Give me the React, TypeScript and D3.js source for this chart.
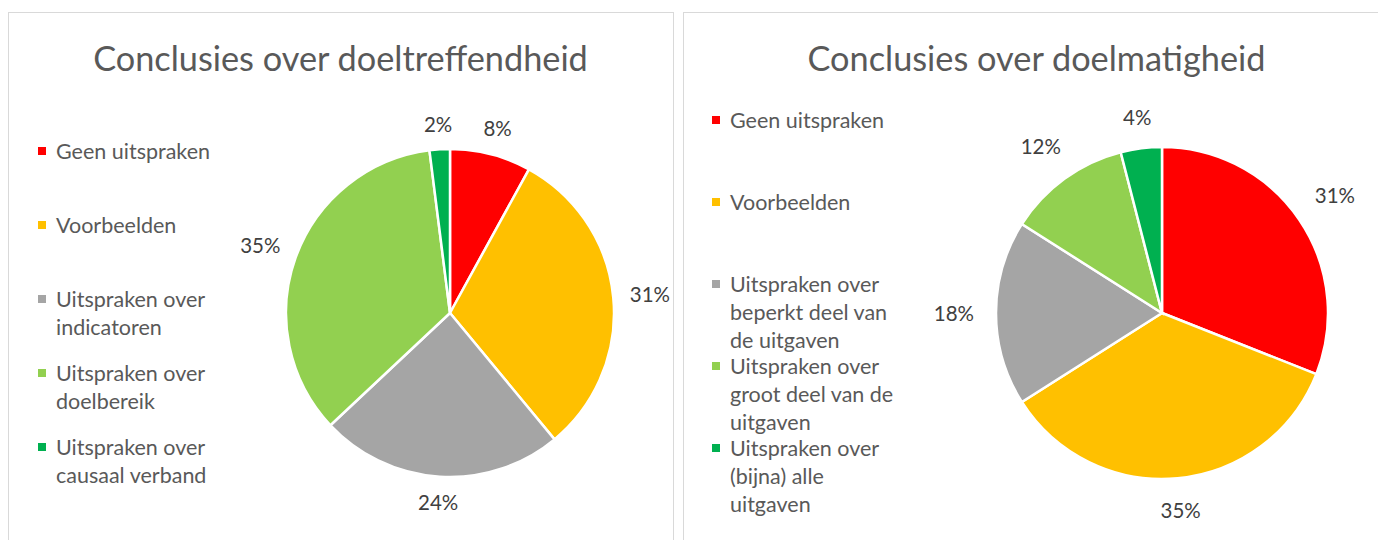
import React from "react";
import * as d3 from "d3";

const leftTitle = "Conclusies over doeltreffendheid";
const leftCategories = [
  "Geen uitspraken",
  "Voorbeelden",
  "Uitspraken over indicatoren",
  "Uitspraken over doelbereik",
  "Uitspraken over causaal verband",
];
const leftValues = [8, 31, 24, 35, 2];

const rightTitle = "Conclusies over doelmatigheid";
const rightCategories = [
  "Geen uitspraken",
  "Voorbeelden",
  "Uitspraken over beperkt deel van de uitgaven",
  "Uitspraken over groot deel van de uitgaven",
  "Uitspraken over (bijna) alle uitgaven",
];
const rightValues = [31, 35, 18, 12, 4];

const sliceColors = ["#FF0000", "#FFC000", "#A5A5A5", "#92D050", "#00B050"];

const FONT = "Lato, 'Open Sans', sans-serif";
const W = 1378;
const H = 540;

let ctx: CanvasRenderingContext2D | null = null;
function measure(text: string, size: number): number {
  if (!ctx) {
    const c = document.createElement("canvas");
    ctx = c.getContext("2d");
  }
  if (!ctx) return text.length * size * 0.5;
  ctx.font = `${size}px Lato`;
  return ctx.measureText(text).width;
}

function wrap(text: string, size: number, maxW: number): string[] {
  const words = text.split(" ");
  const lines: string[] = [];
  let cur = "";
  for (const w of words) {
    const t = cur ? cur + " " + w : w;
    if (cur && measure(t, size) > maxW) {
      lines.push(cur);
      cur = w;
    } else cur = t;
  }
  if (cur) lines.push(cur);
  return lines;
}

type PanelProps = {
  title: string;
  categories: string[];
  values: number[];
  x0: number;
  x1: number;
  cx: number;
  cy: number;
  r: number;
  legendX: number;
  legendY0: number;
  legendStep: number;
  labelGap: number;
};

function Panel(p: PanelProps) {
  const pie = d3.pie<number>().sort(null).value((d) => d);
  const arcs = pie(p.values);
  const arc = d3.arc<d3.PieArcDatum<number>>().innerRadius(0).outerRadius(p.r);
  const legendSize = 21.5;
  const lineH = 28;
  const labelSize = 20.5;
  const total = d3.sum(p.values);
  return (
    <g>
      <rect
        x={p.x0 + 0.5}
        y={12.5}
        width={p.x1 - p.x0}
        height={H}
        fill="#FFFFFF"
        stroke="#D9D9D9"
        strokeWidth={1}
      />
      <text
        x={(p.x0 + p.x1) / 2}
        y={57}
        textAnchor="middle"
        dominantBaseline="central"
        fontFamily={FONT}
        fontSize={34.3}
        fill="#595959"
      >
        {p.title}
      </text>
      {arcs.map((a, i) => (
        <path
          key={i}
          d={arc(a) || ""}
          transform={`translate(${p.cx},${p.cy})`}
          fill={sliceColors[i]}
          stroke="#FFFFFF"
          strokeWidth={2.5}
        />
      ))}
      {arcs.map((a, i) => {
        const mid = (a.startAngle + a.endAngle) / 2;
        const label = `${Math.round((a.value / total) * 100)}%`;
        const w = measure(label, labelSize);
        const h = 16;
        const s = Math.sin(mid);
        const c = -Math.cos(mid);
        const ext = Math.abs(s) * (w / 2) + Math.abs(c) * (h / 2);
        const dist = p.r + p.labelGap + ext;
        return (
          <text
            key={i}
            x={p.cx + s * dist}
            y={p.cy + c * dist}
            textAnchor="middle"
            dominantBaseline="central"
            fontFamily={FONT}
            fontSize={labelSize}
            fill="#404040"
          >
            {label}
          </text>
        );
      })}
      {p.categories.map((cat, i) => {
        const lines = wrap(cat, legendSize, 170);
        const y = p.legendY0 + i * p.legendStep;
        return (
          <g key={i}>
            <rect x={p.legendX} y={y - 4} width={8} height={8} fill={sliceColors[i]} />
            {lines.map((ln, j) => (
              <text
                key={j}
                x={p.legendX + 18}
                y={y + j * lineH}
                dominantBaseline="central"
                fontFamily={FONT}
                fontSize={legendSize}
                fill="#595959"
              >
                {ln}
              </text>
            ))}
          </g>
        );
      })}
    </g>
  );
}

export default function App() {
  return (
    <svg
      width={W}
      height={H}
      style={{ position: "absolute", left: 0, top: 0, background: "#FFFFFF" }}
    >
      <rect x={0} y={0} width={W} height={H} fill="#FFFFFF" />
      <Panel
        title={leftTitle}
        categories={leftCategories}
        values={leftValues}
        x0={8}
        x1={673}
        cx={450}
        cy={313}
        r={164}
        legendX={38}
        legendY0={151}
        legendStep={74}
        labelGap={16}
      />
      <Panel
        title={rightTitle}
        categories={rightCategories}
        values={rightValues}
        x0={683}
        x1={1390}
        cx={1162}
        cy={313}
        r={166}
        legendX={712}
        legendY0={120}
        legendStep={82}
        labelGap={22}
      />
    </svg>
  );
}
